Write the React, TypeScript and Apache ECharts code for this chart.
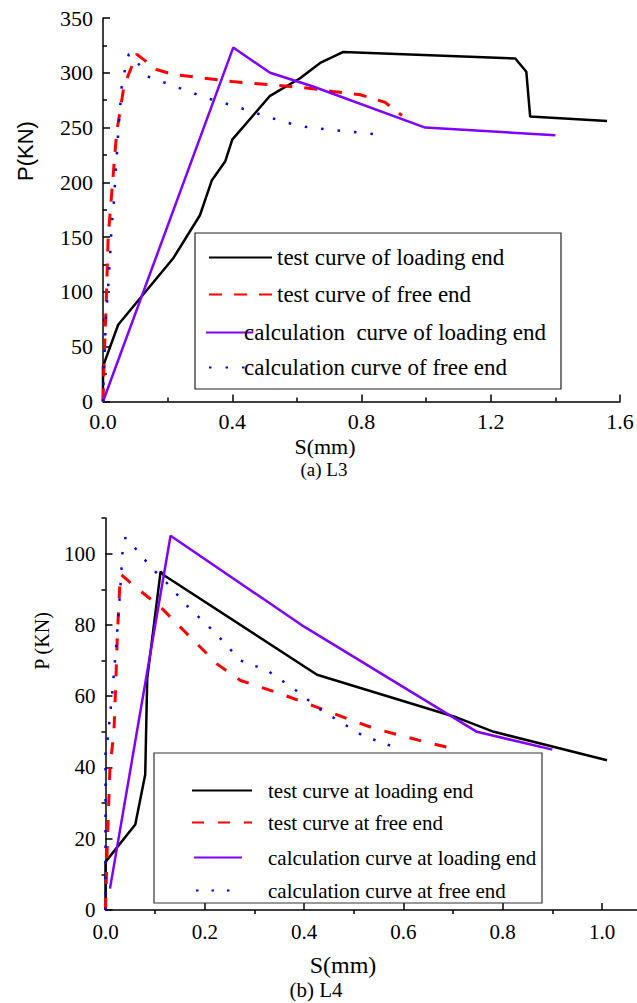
import { useEffect, useRef } from "react";
import * as echarts from "echarts";

// ---------- (a) L3 data: [S (mm), P (kN)] ----------
const l3TestLoading = [
  [0, 0], [0, 32], [0.047, 70], [0.218, 131], [0.3, 170], [0.337, 202], [0.378, 219],
  [0.4, 239], [0.517, 279], [0.61, 295], [0.672, 309], [0.744, 319], [1.276, 313],
  [1.31, 301], [1.322, 260], [1.56, 256],
];
const l3TestFree = [
  [0, 0], [0.005, 50], [0.011, 100], [0.016, 150], [0.022, 172], [0.042, 245], [0.065, 288],
  [0.104, 317], [0.166, 303], [0.217, 298.5], [0.4, 292], [0.62, 286.5], [0.712, 283],
  [0.796, 280], [0.873, 273], [0.925, 261],
];
const l3CalcLoading = [
  [0, 0], [0.403, 323], [0.517, 300], [0.65, 287.5], [0.997, 250], [1.4, 243],
];
const l3CalcFree = [
  [0, 0], [0.003, 30], [0.009, 75], [0.016, 105], [0.022, 133], [0.027, 162], [0.032, 175],
  [0.047, 245], [0.058, 288], [0.068, 303], [0.08, 317], [0.09, 317], [0.135, 297],
  [0.228, 287], [0.32, 277], [0.414, 269], [0.507, 260], [0.6, 252], [0.646, 249.7], [0.84, 244],
];

// ---------- (b) L4 data: [S (mm), P (kN)] ----------
const l4TestLoading = [
  [0, 0], [0, 13.5], [0.06, 24], [0.08, 38], [0.084, 65], [0.111, 95], [0.117, 94],
  [0.426, 66], [0.708, 54], [0.782, 50], [1.01, 42],
];
const l4TestFree = [
  [0, 0], [0.004, 20], [0.009, 40], [0.017, 50], [0.02, 61], [0.024, 77.5], [0.03, 94.3],
  [0.057, 91], [0.111, 85], [0.164, 77.5], [0.225, 69], [0.272, 64.4], [0.352, 60.7],
  [0.42, 57.2], [0.487, 53.7], [0.54, 51], [0.594, 49], [0.648, 47], [0.71, 45],
];
const l4CalcLoading = [
  [0.009, 6], [0.131, 105], [0.4, 79.5], [0.748, 50], [0.9, 45],
];
const l4CalcFree = [
  [0, 0], [0, 45], [0.003, 46], [0.013, 60], [0.021, 73], [0.03, 90.6], [0.034, 100],
  [0.04, 104.5], [0.057, 102], [0.079, 98.3], [0.1, 95], [0.124, 91.7], [0.168, 84.8],
  [0.218, 78.2], [0.272, 70], [0.326, 67.2], [0.379, 62.1], [0.43, 56.5], [0.46, 53.9],
  [0.517, 49], [0.582, 45.7],
];

// ---------- names & ticks ----------
const l3Names = [
  "test curve of loading end",
  "test curve of free end",
  "calculation  curve of loading end",
  "calculation curve of free end",
];
const l4Names = [
  "test curve at loading end",
  "test curve at free end",
  "calculation curve at loading end",
  "calculation curve at free end",
];
const l4XMajor = [0, 0.2, 0.4, 0.6, 0.8, 1.0];
const l4XMinor = [0.1, 0.3, 0.5, 0.7, 0.9];
const l4YMajor = [0, 20, 40, 60, 80, 100];
const l4YMinor = [10, 30, 50, 70, 90, 110];

const SERIF = "'Liberation Serif', 'Times New Roman', serif";
const SANS = "'Liberation Sans', Arial, sans-serif";
const BLACK = "#000000";
const RED = "#ff0000";
const PURPLE = "#8000ff";
const BLUE = "#0000ff";

export default function App() {
  const ref = useRef<HTMLDivElement>(null);

  useEffect(() => {
    if (!ref.current) return;
    const chart = echarts.init(ref.current, undefined, { renderer: "svg" });

    const axisLine = { show: true, onZero: false, lineStyle: { color: BLACK, width: 1.5 } };
    const tickStyle = { color: BLACK, width: 1.5 };

    const mkLine = (
      name: string, data: number[][], color: string, width: number,
      type: any, gi: number
    ) => ({
      name,
      type: "line",
      data,
      xAxisIndex: gi === 0 ? 0 : 1,
      yAxisIndex: gi === 0 ? 0 : 1,
      symbol: "none",
      showSymbol: false,
      lineStyle: { color, width, type },
      itemStyle: { color },
      z: 3,
    });

    const mkLegend = (
      name: string, left: number, rowY: number, itemWidth: number,
      fontSize: number, padLeft: number
    ) => ({
      data: [name],
      left,
      top: rowY - 7,
      padding: 0,
      itemWidth,
      itemHeight: 14,
      selectedMode: false,
      itemStyle: { color: "rgba(0,0,0,0)", borderWidth: 0, opacity: 0 },
      textStyle: {
        fontFamily: SERIF,
        fontSize,
        color: BLACK,
        lineHeight: 14,
        padding: [0, 0, 0, padLeft],
      },
    });

    chart.setOption({
      animation: false,
      backgroundColor: "#ffffff",
      grid: [
        { left: 103, top: 18, width: 517, height: 383.5 },
        { left: 105.5, top: 518, width: 531.3, height: 392 },
      ],
      xAxis: [
        {
          gridIndex: 0, type: "value", min: 0, max: 1.6, interval: 0.4,
          axisLine,
          axisTick: { inside: true, length: 7, lineStyle: tickStyle },
          minorTick: { show: true, splitNumber: 2, length: 4, lineStyle: tickStyle },
          axisLabel: {
            formatter: (v: number) => v.toFixed(1),
            fontFamily: SERIF, fontSize: 22, color: BLACK, margin: 9,
          },
          splitLine: { show: false },
        },
        {
          gridIndex: 1, type: "value", min: 0, max: 1.07,
          axisLine,
          axisTick: { inside: true, length: 7, lineStyle: tickStyle, customValues: l4XMajor },
          axisLabel: {
            customValues: l4XMajor,
            formatter: (v: number) => v.toFixed(1),
            fontFamily: SERIF, fontSize: 21, color: BLACK, margin: 11,
          },
          splitLine: { show: false },
        },
        {
          gridIndex: 1, type: "value", min: 0, max: 1.07,
          axisLine: { show: false },
          axisTick: { inside: true, length: 4, lineStyle: tickStyle, customValues: l4XMinor },
          axisLabel: { show: false },
          splitLine: { show: false },
        },
      ],
      yAxis: [
        {
          gridIndex: 0, type: "value", min: 0, max: 350, interval: 50,
          axisLine,
          axisTick: { inside: true, length: 7, lineStyle: tickStyle },
          minorTick: { show: true, splitNumber: 2, length: 4, lineStyle: tickStyle },
          axisLabel: { fontFamily: SERIF, fontSize: 22, color: BLACK, margin: 10 },
          splitLine: { show: false },
        },
        {
          gridIndex: 1, type: "value", min: 0, max: 110,
          axisLine,
          axisTick: { inside: true, length: 7, lineStyle: tickStyle, customValues: l4YMajor },
          axisLabel: {
            customValues: l4YMajor,
            fontFamily: SERIF, fontSize: 21, color: BLACK, margin: 10,
          },
          splitLine: { show: false },
        },
        {
          gridIndex: 1, type: "value", min: 0, max: 110,
          axisLine: { show: false },
          axisTick: { inside: true, length: 4, lineStyle: tickStyle, customValues: l4YMinor },
          axisLabel: { show: false },
          splitLine: { show: false },
        },
      ],
      legend: [
        mkLegend(l3Names[0], 208, 253, 63, 23, 0),
        mkLegend(l3Names[1], 208, 290, 63, 23, 0),
        mkLegend(l3Names[2], 205, 328, 47, 23, -14),
        mkLegend(l3Names[3], 208, 363, 37, 23, -7),
        mkLegend(l4Names[0], 191, 787, 60, 21, 11),
        mkLegend(l4Names[1], 191, 819, 60, 21, 11),
        mkLegend(l4Names[2], 193, 854, 48, 21, 21),
        mkLegend(l4Names[3], 195, 887, 38, 21, 29),
      ],
      series: [
        mkLine(l3Names[0], l3TestLoading, BLACK, 2.5, "solid", 0),
        mkLine(l3Names[1], l3TestFree, RED, 3, [13, 12], 0),
        mkLine(l3Names[2], l3CalcLoading, PURPLE, 2.5, "solid", 0),
        mkLine(l3Names[3], l3CalcFree, BLUE, 2.5, [2.5, 14], 0),
        mkLine(l4Names[0], l4TestLoading, BLACK, 2.5, "solid", 1),
        mkLine(l4Names[1], l4TestFree, RED, 3, [12, 14], 1),
        mkLine(l4Names[2], l4CalcLoading, PURPLE, 2.5, "solid", 1),
        mkLine(l4Names[3], l4CalcFree, BLUE, 2.5, [2.5, 13], 1),
      ],
      graphic: [
        {
          type: "rect", shape: { x: 195, y: 233, width: 366, height: 156 },
          style: { fill: "none", stroke: "#222", lineWidth: 1.2 }, z: 1,
        },
        {
          type: "rect", shape: { x: 154, y: 753, width: 388, height: 150 },
          style: { fill: "none", stroke: "#333", lineWidth: 1.2 }, z: 1,
        },
        {
          type: "text", x: 25, y: 151, rotation: Math.PI / 2,
          style: {
            text: "P(KN)", fontFamily: SANS, fontSize: 22, fill: BLACK,
            align: "center", verticalAlign: "middle",
          },
        },
        {
          type: "text", x: 325, y: 446,
          style: {
            text: "S(mm)", fontFamily: SERIF, fontSize: 22, fill: BLACK,
            align: "center", verticalAlign: "middle",
          },
        },
        {
          type: "text", x: 324, y: 469,
          style: {
            text: "(a) L3", fontFamily: SERIF, fontSize: 19, fill: BLACK,
            align: "center", verticalAlign: "middle",
          },
        },
        {
          type: "text", x: 42, y: 641, rotation: Math.PI / 2,
          style: {
            text: "P (KN)", fontFamily: SERIF, fontSize: 20, fill: BLACK,
            align: "center", verticalAlign: "middle",
          },
        },
        {
          type: "text", x: 343, y: 965,
          style: {
            text: "S(mm)", fontFamily: SERIF, fontSize: 24, fill: BLACK,
            align: "center", verticalAlign: "middle",
          },
        },
        {
          type: "text", x: 316, y: 990,
          style: {
            text: "(b) L4", fontFamily: SERIF, fontSize: 21, fill: BLACK,
            align: "center", verticalAlign: "middle",
          },
        },
      ],
    });

    return () => chart.dispose();
  }, []);

  return (
    <div
      ref={ref}
      style={{ position: "absolute", left: 0, top: 0, width: 637, height: 1003 }}
    />
  );
}
